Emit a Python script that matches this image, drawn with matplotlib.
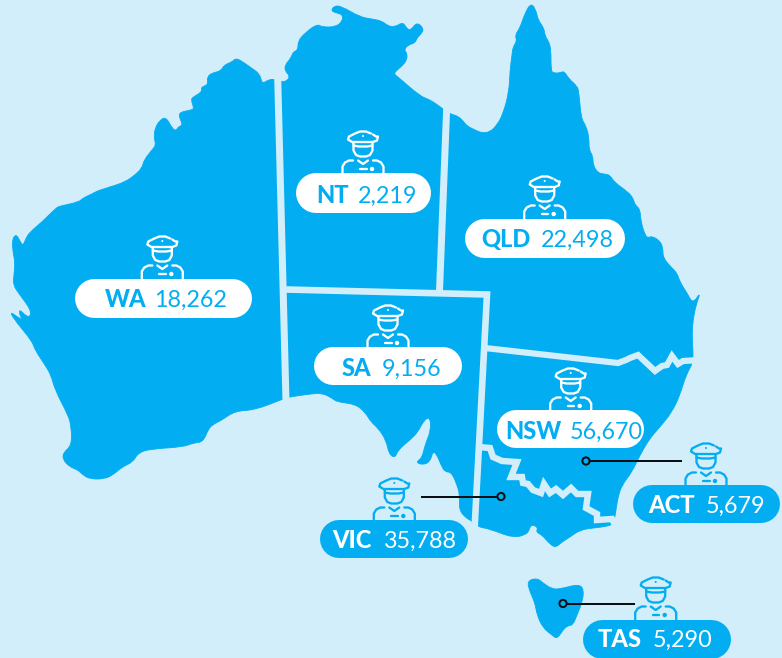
import matplotlib
matplotlib.use("Agg")
import matplotlib.pyplot as plt
from matplotlib.path import Path
from matplotlib.patches import PathPatch, Circle

# ---- data ----
states = ["WA", "NT", "QLD", "SA", "NSW", "VIC", "ACT", "TAS"]
values = ["18,262", "2,219", "22,498", "9,156", "56,670", "35,788", "5,679", "5,290"]

# ---- map geometry traced in image pixels ----
mainland = [
    (274,79),(268,80),(262,84),(260,74),(250,67),(243,62),(236,58),(232,62),(224,65),(221,71),
    (212,73),(207,77),(208,85),(201,87),(202,92),(193,97),(191,100),(194,108),(192,110),(180,112),
    (179,117),(183,125),(178,127),(176,131),(172,128),(166,117),(160,120),(155,128),(154,138),(156,145),
    (152,150),(144,160),(142,168),(135,175),(125,182),(110,187),(97,191),(92,194),(83,198),(79,202),
    (60,206),(56,208),(42,222),(30,232),(26,238),(23,246),(20,241),(16,234),(12,240),(13,252),
    (15,262),(14,275),(13,285),(20,295),(31,310),(30,317),(26,316),(19,309),(20,316),(23,320),(19,318),(9,311),
    (17,323),(32,341),(35,350),(45,365),(51,375),(55,390),(68,415),(71,425),(72,445),(63,453),
    (63,460),(70,467),(78,470),(83,475),(90,479),(104,479),(113,475),(122,467),(133,462),(138,453),
    (150,449),(183,447),(193,443),(203,442),(208,430),(212,425),(222,420),(235,411),(255,410),(283,399),
    (289,397),(310,394),(322,393),(332,398),(337,402),(355,404),(365,412),(371,422),(378,428),(386,440),
    (389,454),(395,458),(398,450),(410,440),(418,432),(424,420),(430,417),(431,430),(425,445),(422,458),
    (416,462),(422,465),(430,462),(433,451),(437,455),(441,465),(445,472),(451,472),(456,482),(460,495),
    (459,510),(466,518),(472,521),(478,527),(490,529),(513,538),(528,534),(530,526),(534,525),(538,528),
    (536,532),(542,535),(548,542),(555,548),(562,542),(570,537),(580,530),(593,528),(610,526),(614,522),
    (616,510),(618,497),(622,485),(632,472),(640,455),(650,438),(660,427),(672,412),(680,395),(686,375),
    (693,363),(693,350),(692,335),(693,320),(696,305),(701,291),(693,304),(687,293),(680,282),(677,273),
    (672,268),(663,258),(663,248),(660,241),(652,236),(648,238),(645,235),(641,222),(640,209),(635,205),
    (633,198),(628,192),(614,182),(610,175),(604,174),(598,173),(593,165),(593,156),(589,150),(589,137),
    (586,126),(581,118),(579,92),(577,86),(569,79),(564,71),(560,73),(553,73),(551,70),(551,50),
    (549,42),(545,36),(544,28),(538,20),(536,10),(531,3),(525,13),(520,28),(515,35),(517,41),
    (513,47),(512,55),(510,70),(509,92),(503,114),(497,125),(490,132),(482,133),(475,130),(467,126),
    (464,122),(458,116),(450,114),(443,109),(435,103),(428,99),(420,96),(398,77),(394,74),(396,71),
    (402,66),(407,60),(407,53),(404,50),(408,45),(415,43),(417,38),(421,34),(424,29),(417,22),
    (411,30),(407,29),(403,22),(395,27),(388,26),(382,21),(372,19),(360,17),(341,6),(334,6),
    (331,11),(337,13),(343,15),(342,22),(335,27),(322,27),(317,24),(305,33),(298,41),(298,50),
    (293,52),(291,58),(285,65),(285,71),(290,76),(287,81),(281,82),
]
tasmania = [
    (527,581),(537,578),(543,583),(552,589),(560,589),(579,584),(584,590),(582,603),(577,615),(573,625),
    (567,626),(563,630),(557,639),(552,635),(543,628),(537,615),(535,603),(530,592),
]
border_wa_nt = [(277.5,70),(286,402)]
border_nt_sa_vic = [(286,289.5),(487,294.5),(474.5,530)]
border_nt_qld = [(447,100),(439.5,291)]
border_qld_nsw = [(485,348),(618,363),(626,360),(630,358),(638,355),(655,371),(662,366),(667,365),
                  (672,356),(678,364),(683,361),(700,360)]
border_nsw_vic = [(478,447),(490,448),(493,457),(502,461),(517,462),(511,477),(522,477),(523,483),
                  (528,484),(533,490),(541,493),(544,484),(550,493),(556,489),(563,495),(571,488),
                  (577,494),(588,494),(586,508),(597,514),(597,520),(612,519),(616,527)]

# ---- label layout: pill x0,x1,y0,y1, text baseline, abbr x, value x, icon x ----
pills = {
    "WA":  (74,251,278,317,307,105,154,162.3),
    "NT":  (296,431,173,213,203,316,358,363),
    "QLD": (464,624,218,257,247,481,541,544.7),
    "SA":  (314,462,347,385,376,342,382,388),
    "NSW": (497,644,410,448,439,505,570,570.7),
    "VIC": (320,468,520,558,548,332,384,394.3),
    "ACT": (633,780,485,523,513,648,706,706),
    "TAS": (582,730,619,658,647,598,653,655.7),
}
connectors = [(421,501,496.5),(682,586,461),(635,563,603.5)]

BLUE = "#02AEF1"
LIGHT = "#D2EEFB"
WHITE = "#FFFFFF"

plt.rcParams["font.family"] = ["Lato", "DejaVu Sans"]
fig = plt.figure(figsize=(7.82, 6.58), dpi=100, facecolor=LIGHT)
ax = fig.add_axes([0, 0, 1, 1])
ax.set_xlim(0, 782)
ax.set_ylim(658, 0)
ax.axis("off")
PX = 0.72  # points per pixel


def smooth(pts):
    verts, codes = [], []
    n = len(pts)
    mid = lambda a, b: ((a[0] + b[0]) / 2, (a[1] + b[1]) / 2)
    verts.append(mid(pts[-1], pts[0])); codes.append(Path.MOVETO)
    for i in range(n):
        verts += [pts[i], mid(pts[i], pts[(i + 1) % n])]
        codes += [Path.CURVE3, Path.CURVE3]
    return Path(verts, codes)


for shape in (mainland, tasmania):
    ax.add_patch(PathPatch(smooth(shape), fc=BLUE, ec=BLUE, lw=0.6, zorder=1))

for line, w in [(border_wa_nt, 7), (border_nt_sa_vic, 6.6), (border_nt_qld, 7),
                (border_qld_nsw, 6.2), (border_nsw_vic, 6.4)]:
    ax.plot(*zip(*line), color=LIGHT, lw=w * PX, solid_joinstyle="miter",
            solid_capstyle="butt", zorder=2)


def icon(cx, top, color):
    lw = 2.3 * PX
    parts = [
        [(-10,-31),(-15,-34),(-14,-37),(-8,-40),(-3,-42),(3,-42),(8,-40)],
        [(10,-39),(13,-37),(15,-37),(14,-33),(10,-31.5),(-10,-31.5)],
        [(-9.5,-31),(-9.5,-23),(-7,-18.5),(-3,-17),(3,-17),(7,-18.5),(9.5,-23),(9.5,-31)],
        [(-9.5,-28),(-4,-27),(4,-27),(9.5,-28)],
        [(-20.5,0),(-20.5,-7),(-18,-11),(-14,-13),(-10,-13)],
        [(20.5,0),(20.5,-7),(18,-11),(14,-13),(10,-13)],
        [(-5,-13),(0,-9.5),(5,-13)],
        [(-3,-4.5),(3.5,-4.5)],
    ]
    for p in parts:
        ax.plot([cx + a for a, _ in p], [top + b for _, b in p], color=color, lw=lw,
                solid_capstyle="round", solid_joinstyle="round", zorder=3)
    ax.add_patch(Circle((cx + 9, top - 4.5), 2.2, fc=color, ec="none", zorder=3))
    ax.add_patch(Circle((cx, top - 37.5), 1.0, fc=color, ec="none", zorder=3))


for x0, x1, y in connectors:
    ax.plot([x0, x1], [y, y], color="#0B0F14", lw=2 * PX, solid_capstyle="butt", zorder=4)
    ax.add_patch(Circle((x1, y), 3.6, fc=BLUE, ec="#0B0F14", lw=2 * PX, zorder=5))

for st, val in zip(states, values):
    x0, x1, y0, y1, base, xa, xv, xi = pills[st]
    outside = st in ("VIC", "ACT", "TAS")
    fill = BLUE if outside else WHITE
    ink = WHITE if outside else BLUE
    icon(xi, y0 + 0.5, BLUE if outside else WHITE)
    h = y1 - y0
    ym = (y0 + y1) / 2
    ax.plot([x0 + h / 2, x1 - h / 2], [ym, ym], color=fill, lw=h * PX,
            solid_capstyle="round", zorder=6, clip_on=False)
    ax.text(xa, base, st, color=ink, fontsize=17, fontweight="black", va="baseline", ha="left", zorder=7)
    ax.text(xv, base, val, color=ink, fontsize=16.8, fontweight="normal", va="baseline", ha="left", zorder=7)

fig.savefig("out.png", dpi=100, facecolor=LIGHT)
